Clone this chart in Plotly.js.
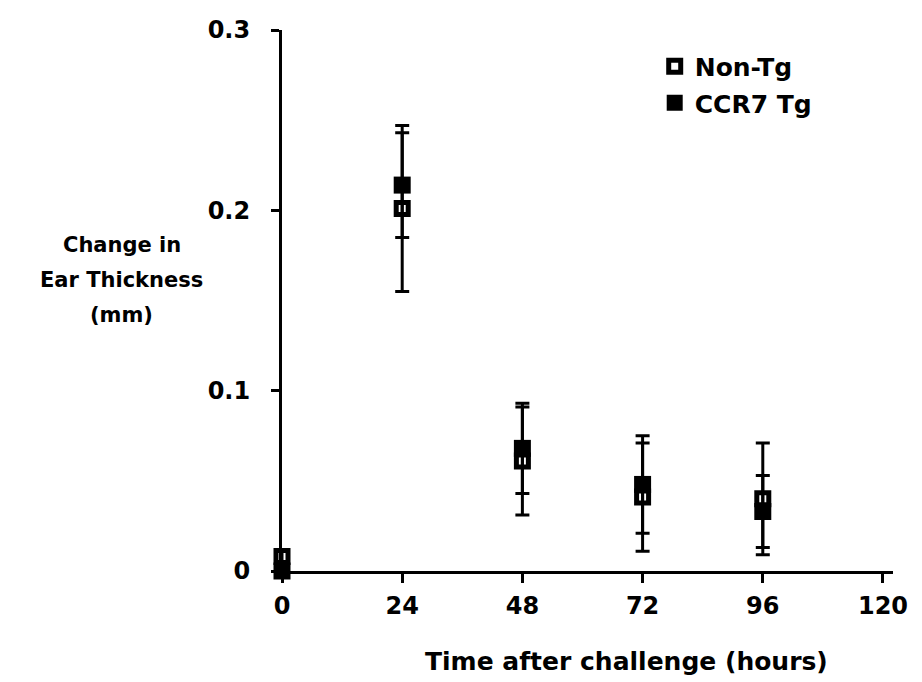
<!DOCTYPE html>
<html>
<head>
<meta charset="utf-8">
<script src="https://cdn.plot.ly/plotly-3.0.1.min.js"></script>
<style>html,body{margin:0;padding:0;background:#fff;}#chart{width:922px;height:682px;}</style>
</head>
<body>
<div id="chart"></div>
<script>
// Data
const hours = [0, 24, 48, 72, 96];
const nonTgMean = [0.008, 0.201, 0.061, 0.041, 0.040];
const nonTgErr  = [0.003, 0.046, 0.030, 0.030, 0.031];
const ccr7Mean  = [0.000, 0.214, 0.068, 0.048, 0.033];
const ccr7Err   = [0.002, 0.029, 0.025, 0.027, 0.020];
const xTicks = [0, 24, 48, 72, 96, 120];
const yTicks = [0, 0.1, 0.2, 0.3];
const yTickText = ['0', '0.1', '0.2', '0.3'];
const yTitleLines = ['Change in', 'Ear Thickness', '(mm)'];
const xTitle = 'Time after challenge (hours)';

const FONT = 'DejaVu Sans, Arial, sans-serif';

const traces = [
  {
    name: 'CCR7 Tg', x: hours, y: ccr7Mean, type: 'scatter', mode: 'markers',
    legendrank: 2, legendgroup: 'b', cliponaxis: false,
    marker: {symbol: 'square', size: 17, color: '#000', line: {width: 0}},
    error_y: {type: 'data', array: ccr7Err, visible: true, color: '#000', thickness: 3, width: 7}
  },
  {
    name: 'Non-Tg', x: hours, y: nonTgMean, type: 'scatter', mode: 'markers',
    legendrank: 1, legendgroup: 'a', cliponaxis: false,
    marker: {symbol: 'square-open', size: 12, color: '#000', line: {width: 5, color: '#000'}},
    error_y: {type: 'data', array: nonTgErr, visible: true, color: '#000', thickness: 3, width: 7}
  }
];

const titleFont = {family: FONT, size: 21, color: '#000', weight: 'bold'};
const yTitleY = [0.6026, 0.5379, 0.4732];

const layout = {
  width: 922, height: 682,
  paper_bgcolor: '#fff', plot_bgcolor: '#fff',
  margin: {l: 282, r: 29, t: 30, b: 111},
  font: {family: FONT, size: 22, color: '#000', weight: 'bold'},
  showlegend: true,
  legend: {
    x: 0.61, y: 0.975, xanchor: 'left', yanchor: 'top',
    traceorder: 'grouped', tracegroupgap: 1,
    font: {family: FONT, size: 25, color: '#000', weight: 'bold'},
    bgcolor: 'rgba(0,0,0,0)', itemsizing: 'trace'
  },
  xaxis: {
    range: [0, 122], showgrid: false, zeroline: false,
    showline: true, linecolor: '#000', linewidth: 3,
    tickmode: 'array', tickvals: xTicks, ticktext: xTicks.map(String),
    ticks: 'outside', ticklen: 9, tickwidth: 3, tickcolor: '#000',
    ticklabelstandoff: 2,
    tickfont: {family: FONT, size: 24, color: '#000', weight: 'bold'}
  },
  yaxis: {
    range: [0, 0.3], showgrid: false, zeroline: false,
    showline: true, linecolor: '#000', linewidth: 3,
    tickmode: 'array', tickvals: yTicks, ticktext: yTickText,
    ticks: 'outside', ticklen: 8, tickwidth: 3, tickcolor: '#000',
    ticklabelstandoff: 16,
    tickfont: {family: FONT, size: 24, color: '#000', weight: 'bold'}
  },
  annotations: [
    {text: xTitle, xref: 'paper', yref: 'paper',
     x: 0.5646, y: -0.168, xanchor: 'center', yanchor: 'middle', showarrow: false,
     font: {family: FONT, size: 25, color: '#000', weight: 'bold'}}
  ].concat(yTitleLines.map((t, i) => ({
     text: t, xref: 'paper', yref: 'paper', x: -0.262, y: yTitleY[i],
     xanchor: 'center', yanchor: 'middle', showarrow: false, font: titleFont
  })))
};

Plotly.newPlot('chart', traces, layout, {displayModeBar: false, staticPlot: true});
</script>
</body>
</html>
